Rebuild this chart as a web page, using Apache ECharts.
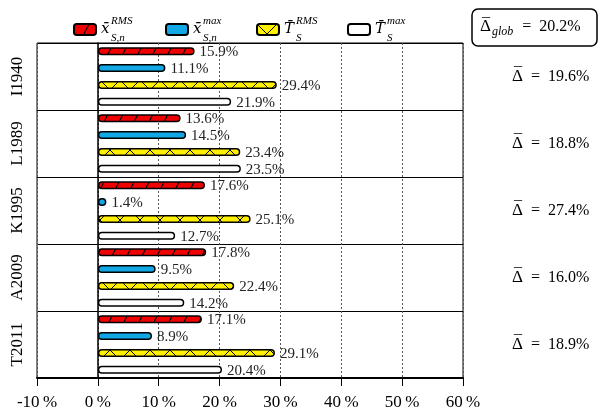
<!DOCTYPE html>
<html>
<head>
<meta charset="utf-8">
<script src="https://cdn.jsdelivr.net/npm/echarts@6/dist/echarts.min.js"></script>
<style>
html, body { margin: 0; padding: 0; background: #fff; }
#main { width: 600px; height: 416px; }
</style>
</head>
<body>
<div id="main"></div>
<script>
// data
var categories = ['I1940', 'L1989', 'K1995', 'A2009', 'T2011'];
var xRms = [15.9, 13.6, 17.6, 17.8, 17.1];
var xMax = [11.1, 14.5, 1.4, 9.5, 8.9];
var tRms = [29.4, 23.4, 25.1, 22.4, 29.1];
var tMax = [21.9, 23.5, 12.7, 14.2, 20.4];
var deltas = [19.6, 18.8, 27.4, 16.0, 18.9];
var deltaGlob = 20.2;
var xMin = -10, xMaxTick = 60, xStep = 10;

var serif = 'Liberation Serif';
var mathFont = 'DejaVu Serif';   // x and T with combining macron look right here

// steep "/" hatch for the red bars
function slashTile() {
    var c = document.createElement('canvas');
    c.width = 15;
    c.height = 30;
    var ctx = c.getContext('2d');
    ctx.fillStyle = '#f00000';
    ctx.fillRect(0, 0, 15, 30);
    ctx.strokeStyle = '#000';
    ctx.lineWidth = 1.2;
    ctx.beginPath();
    for (var k = -1; k <= 1; k++) {
        ctx.moveTo(k * 15, 30);
        ctx.lineTo(k * 15 + 15, 0);
    }
    ctx.stroke();
    return c;
}
// cross hatch for the yellow bars
function crossTile() {
    var s = 20;
    var c = document.createElement('canvas');
    c.width = s;
    c.height = s;
    var ctx = c.getContext('2d');
    ctx.fillStyle = '#fff000';
    ctx.fillRect(0, 0, s, s);
    ctx.strokeStyle = '#000';
    ctx.lineWidth = 1;
    ctx.beginPath();
    ctx.moveTo(-1, s + 1); ctx.lineTo(s + 1, -1);
    ctx.moveTo(-1, -1); ctx.lineTo(s + 1, s + 1);
    ctx.stroke();
    return c;
}
var redFill = { image: slashTile(), repeat: 'repeat' };
var yellowFill = { image: crossTile(), repeat: 'repeat' };

var names = ['xrms', 'xmax', 'trms', 'tmax'];
var legendText = {
    xrms: '{p|\u00a0}{sup|RMS}\n{b|x\u0304}\n{p|\u00a0}{sub|S,n}',
    xmax: '{p|\u00a0}{sup|max}\n{b|x\u0304}\n{p|\u00a0}{sub|S,n}',
    trms: '{pt|\u00a0}{sup|RMS}\n{b|T\u0304}\n{pt|\u00a0}{sub|S}',
    tmax: '{pt|\u00a0}{sup|max}\n{b|T\u0304}\n{pt|\u00a0}{sub|S}'
};
var legendLeft = [73, 165, 256, 347];

var legends = [];
for (var i = 0; i < names.length; i++) {
    legends.push({
        data: [names[i]],
        left: legendLeft[i],
        top: 15,
        padding: 0,
        icon: 'roundRect',
        itemWidth: 22,
        itemHeight: 11,
        itemGap: 7,
        selectedMode: false,
        formatter: function (n) { return legendText[n]; },
        textStyle: {
            color: '#000',
            rich: {
                b: { fontFamily: mathFont, fontStyle: 'italic', fontSize: 15, lineHeight: 9, color: '#000' },
                sup: { fontFamily: serif, fontStyle: 'italic', fontSize: 11, lineHeight: 8, color: '#000' },
                sub: { fontFamily: serif, fontStyle: 'italic', fontSize: 11, lineHeight: 8, color: '#000' },
                p: { width: 10, lineHeight: 8 },
                pt: { width: 12, lineHeight: 8 }
            }
        }
    });
}

// Δ with a bar: the macron sits on its own thin line above the Δ
var barRich = {
    m: { fontFamily: serif, fontSize: 16, lineHeight: 1, padding: [2, 0, 0, 2], color: '#000' },
    d: { fontFamily: serif, fontSize: 17, lineHeight: 4, color: '#000' },
    t: { fontFamily: serif, fontSize: 16, lineHeight: 4, color: '#000' },
    e: { fontSize: 1, lineHeight: 1 },
    s: { fontFamily: serif, fontStyle: 'italic', fontSize: 12, lineHeight: 4, padding: [9, 1, 0, 1], color: '#000' }
};
var eq = '\u2002=\u2002';

function makeSeries(name, values, fill) {
    return {
        name: name,
        type: 'bar',
        yAxisIndex: 0,
        barWidth: 8,
        barGap: '110%',
        data: values,
        itemStyle: {
            color: fill,
            borderColor: '#000',
            borderWidth: 1.5,
            borderRadius: 4
        },
        label: {
            show: true,
            position: 'right',
            distance: 5,
            offset: [0, 1],
            formatter: '{c}%',
            fontFamily: serif,
            fontSize: 15,
            color: '#222'
        }
    };
}

var myChart = echarts.init(document.getElementById('main'));
var option = {
    animation: false,
    backgroundColor: '#fff',
    legend: legends,
    grid: {
        left: 37,
        right: 137,
        top: 43,
        bottom: 38,
        show: true,
        borderColor: '#000',
        borderWidth: 1
    },
    xAxis: {
        type: 'value',
        min: xMin,
        max: xMaxTick,
        interval: xStep,
        axisLine: { show: true, lineStyle: { color: '#000', width: 2 } },
        axisTick: { show: true, length: 8, lineStyle: { color: '#000', width: 1 } },
        axisLabel: {
            formatter: '{value}\u2009%',
            fontFamily: serif,
            fontSize: 17,
            color: '#000',
            margin: 16
        },
        splitLine: { show: true, lineStyle: { color: '#555', type: [2, 2], width: 1 } }
    },
    yAxis: [{
        type: 'category',
        inverse: true,
        data: categories,
        axisLine: { show: true, lineStyle: { color: '#000', width: 1.5 } },
        axisTick: { show: false },
        axisLabel: {
            rotate: 90,
            fontFamily: serif,
            fontSize: 17,
            color: '#000',
            margin: 11
        },
        splitLine: { show: true, lineStyle: { color: '#000', width: 1 } }
    }, {
        type: 'category',
        inverse: true,
        position: 'right',
        data: deltas.map(function (d) { return d.toFixed(1); }),
        axisLine: { show: false },
        axisTick: { show: false },
        splitLine: { show: false },
        axisLabel: {
            align: 'left',
            margin: 49,
            formatter: function (v) { return '{m|\u00af}\n{d|Δ}{t|' + eq + v + '%}\n{e| }'; },
            rich: barRich
        }
    }],
    series: [
        makeSeries('xrms', xRms, redFill),
        makeSeries('xmax', xMax, '#12a8e6'),
        makeSeries('trms', tRms, yellowFill),
        makeSeries('tmax', tMax, '#fff')
    ],
    graphic: [{
        type: 'rect',
        shape: { x: 472, y: 9, width: 125, height: 37, r: 6 },
        style: { fill: '#fff', stroke: '#000', lineWidth: 1.5 }
    }, {
        type: 'text',
        x: 480,
        y: 27,
        style: {
            text: '{m|\u00af}\n{d|Δ}{s|glob}{t|' + eq + deltaGlob.toFixed(1) + '%}\n{e| }',
            align: 'left',
            verticalAlign: 'middle',
            rich: barRich
        }
    }]
};
myChart.setOption(option);
</script>
</body>
</html>
